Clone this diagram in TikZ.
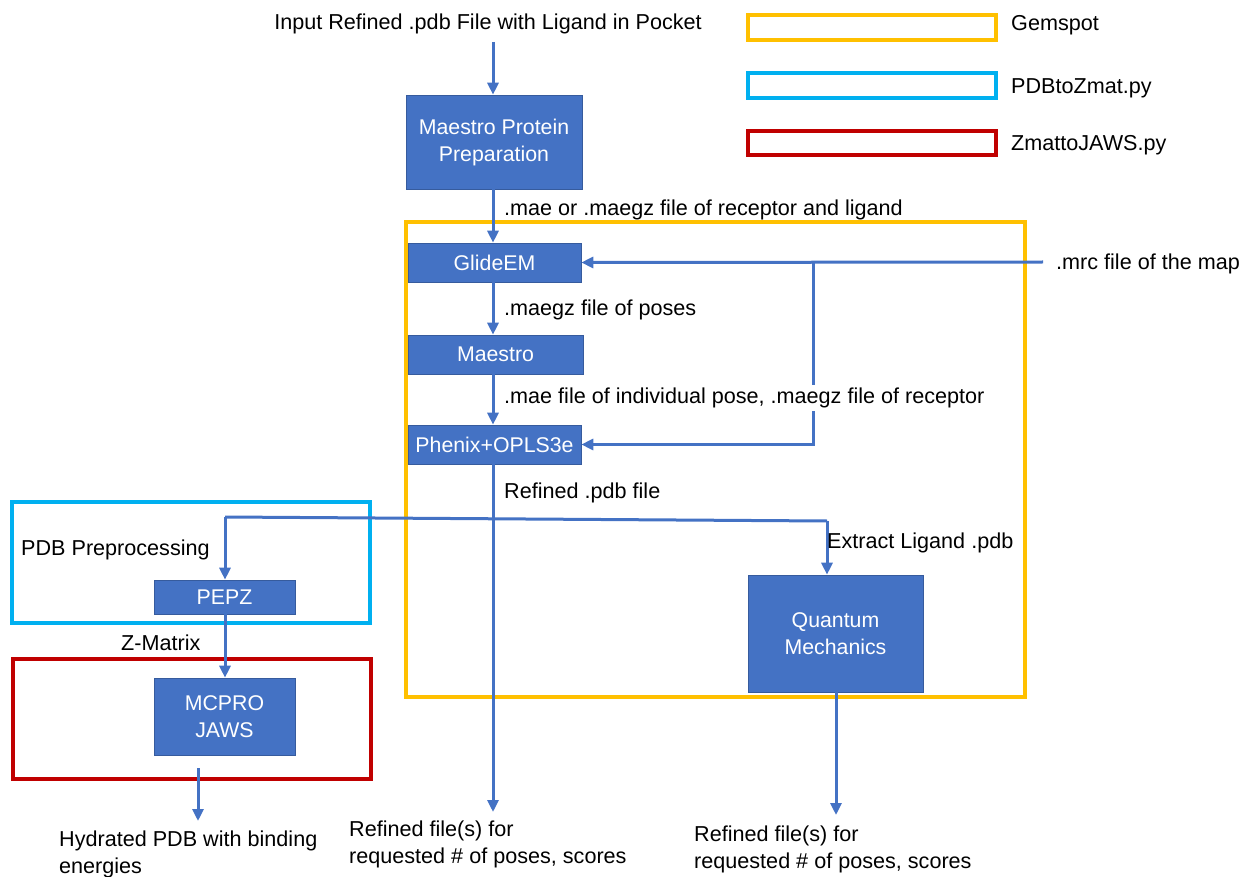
\documentclass[tikz,border=0pt]{standalone}
\usepackage{fontspec}
\setmainfont{Liberation Sans}
\usetikzlibrary{arrows.meta}
\definecolor{boxblue}{HTML}{4472C4}
\definecolor{gemyellow}{HTML}{FFC000}
\definecolor{pdbcyan}{HTML}{00B0F0}
\definecolor{jawsred}{HTML}{C00000}
\tikzset{
  procbox/.style={draw=boxblue!80!black, line width=0.6pt, fill=boxblue, text=white, inner sep=0pt, align=center, font=\fontsize{21.3}{27}\selectfont},
  flow/.style={draw=boxblue, line width=3pt, -{Triangle[length=12pt,width=11pt]}},
  flowline/.style={draw=boxblue, line width=3pt},
  lbl/.style={anchor=west, inner sep=1pt, font=\fontsize{21.6}{27}\selectfont, text=black},
  frame/.style={line width=4pt},
}
\begin{document}
\begin{tikzpicture}[x=1pt,y=-1pt]
\useasboundingbox (0,0) rectangle (1245,877);
% legend
\draw[frame, draw=gemyellow] (748,15) rectangle (996,40);
\node[lbl] (lg1) at (1010,25) {Gemspot};
\draw[frame, draw=pdbcyan] (748,73) rectangle (996,98);
\node[lbl] (lg2) at (1010,88) {PDBtoZmat.py};
\draw[frame, draw=jawsred] (748,131) rectangle (996,155);
\node[lbl] (lg3) at (1010,145) {ZmattoJAWS.py};
% group frames
\draw[frame, draw=gemyellow] (406,222) rectangle (1025,697);
\draw[frame, draw=pdbcyan] (12,502) rectangle (370,623);
\draw[frame, draw=jawsred] (13,659) rectangle (371,779);
% boxes
\node[procbox, minimum width=176pt, minimum height=94pt] (prep) at (494,142) {Maestro Protein\\Preparation};
\node[procbox, minimum width=173pt, minimum height=39pt] (glide) at (494.5,262.5) {GlideEM};
\node[procbox, minimum width=175pt, minimum height=39pt] (maestro) at (495.5,354.5) {Maestro};
\node[procbox, minimum width=173pt, minimum height=39pt] (phenix) at (494.5,444.5) {Phenix+OPLS3e};
\node[procbox, minimum width=141pt, minimum height=34pt] (pepz) at (224.5,597) {PEPZ};
\node[procbox, minimum width=141pt, minimum height=77pt] (mcpro) at (224.5,716.5) {MCPRO\\JAWS};
\node[procbox, minimum width=175pt, minimum height=117pt] (qm) at (835.5,633.5) {Quantum\\Mechanics};
% coordinates
\coordinate (inTop) at (493,42);
\coordinate (mrcEnd) at (1043,262);
\coordinate (mrcSplit) at (813,262);
\coordinate (splitL) at (225,517);
\coordinate (splitR) at (827,521);
\coordinate (refEnd) at (493,812);
\coordinate (qmEnd) at (836,815);
\coordinate (jawsStart) at (198,768);
\coordinate (jawsEnd) at (198,821);
% connectors
\draw[flow] (inTop) -- (prep.north -| inTop);
\draw[flow] (prep.south -| inTop) -- (glide.north -| inTop);
\draw[flow] (glide.south -| inTop) -- (maestro.north -| inTop);
\draw[flow] (maestro.south -| inTop) -- (phenix.north -| inTop);
\draw[flow] (mrcEnd) -- (glide.east);
\draw[flow] (mrcSplit) -- (mrcSplit |- phenix.east) -- (phenix.east);
\draw[flow] (phenix.south -| inTop) -- (refEnd);
\draw[flowline] (splitL) -- (splitR);
\draw[flow] (splitL) -- (pepz.north -| splitL);
\draw[flow] (splitR) -- (qm.north -| splitR);
\draw[flow] (pepz.south -| splitL) -- (mcpro.north -| splitL);
\draw[flow] (qm.south -| qmEnd) -- (qmEnd);
\draw[flow] (jawsStart) -- (jawsEnd);
% texts
\node[lbl, anchor=center] (input) at (488,24) {Input Refined .pdb File with Ligand in Pocket};
\node[lbl] (l1) at (503,210) {.mae or .maegz file of receptor and ligand};
\node[lbl] (l2) at (503,310) {.maegz file of poses};
\node[lbl, fill=white, inner sep=3pt] (l3) at (501,398) {.mae file of individual pose, .maegz file of receptor};
\node[lbl] (l4) at (503,493) {Refined .pdb file};
\node[lbl] (l5) at (826,543) {Extract Ligand .pdb};
\node[lbl] (l6) at (20,550) {PDB Preprocessing};
\node[lbl] (l7) at (120,643) {Z-Matrix};
\node[lbl] (mrc) at (1055,264) {.mrc file of the map};
\node[lbl, anchor=north west, align=left] (out1) at (58,830) {Hydrated PDB with binding\\energies};
\node[lbl, anchor=north west, align=left] (out2) at (348,820) {Refined file(s) for\\requested \# of poses, scores};
\node[lbl, anchor=north west, align=left] (out3) at (693,825) {Refined file(s) for\\requested \# of poses, scores};
\end{tikzpicture}
\end{document}
